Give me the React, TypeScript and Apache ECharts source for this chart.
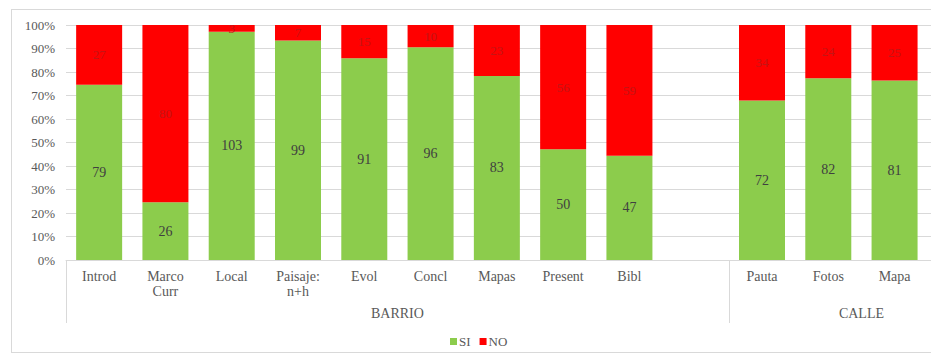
import React, { useEffect, useRef } from "react";
import * as echarts from "echarts";

const categories = ["Introd", "Marco\nCurr", "Local", "Paisaje:\nn+h", "Evol", "Concl", "Mapas", "Present", "Bibl", "", "Pauta", "Fotos", "Mapa", ""];
const siValues: (number | null)[] = [79, 26, 103, 99, 91, 96, 83, 50, 47, null, 72, 82, 81, null];
const noValues: (number | null)[] = [27, 80, 3, 7, 15, 10, 23, 56, 59, null, 34, 24, 25, null];
const groups = [
  { name: "BARRIO", center: 5 },
  { name: "CALLE", center: 12 },
];
const groupDividers = [0, 10];
const yTicks = { min: 0, max: 100, interval: 10 };

const FONT = "Liberation Serif";

function pct(a: number | null, b: number | null): number | null {
  if (a == null || b == null) return null;
  return (a / (a + b)) * 100;
}

export default function App() {
  const ref = useRef<HTMLDivElement>(null);
  useEffect(() => {
    if (!ref.current) return;
    const chart = echarts.init(ref.current, undefined, { renderer: "svg" });
    const siPct = siValues.map((v, i) => pct(v, noValues[i]));
    const noPct = noValues.map((v, i) => pct(v, siValues[i]));
    chart.setOption({
      animation: false,
      textStyle: { fontFamily: FONT },
      grid: { left: 66, right: 0, top: 25, bottom: 93 },
      legend: {
        data: ["SI", "NO"],
        left: 450,
        top: 335,
        padding: 0,
        itemWidth: 7,
        itemHeight: 7,
        itemGap: 9,
        icon: "rect",
        textStyle: { fontFamily: FONT, fontSize: 13, color: "#595959", padding: [0, 0, 0, -3] },
      },
      xAxis: [
        {
          type: "category",
          data: categories,
          axisLine: { show: true, lineStyle: { color: "#d9d9d9" } },
          axisTick: {
            show: true,
            length: 63,
            interval: (i: number) => groupDividers.includes(i),
            lineStyle: { color: "#d9d9d9" },
          },
          axisLabel: {
            interval: 0,
            margin: 9,
            fontFamily: FONT,
            fontSize: 14,
            color: "#595959",
            lineHeight: 15,
          },
        },
        {
          type: "value",
          position: "bottom",
          min: 0,
          max: categories.length,
          interval: 1,
          axisLine: { show: false },
          axisTick: { show: false },
          splitLine: { show: false },
          axisLabel: {
            margin: 46,
            fontFamily: FONT,
            fontSize: 14,
            color: "#595959",
            formatter: (v: number) => {
              const g = groups.find((gr) => gr.center === v);
              return g ? g.name : "";
            },
          },
        },
      ],
      yAxis: {
        type: "value",
        min: yTicks.min,
        max: yTicks.max,
        interval: yTicks.interval,
        axisLine: { show: false },
        axisTick: { show: false },
        splitLine: { lineStyle: { color: "#d9d9d9" } },
        axisLabel: {
          formatter: "{value}%",
          margin: 11,
          fontFamily: FONT,
          fontSize: 13,
          color: "#595959",
        },
      },
      series: [
        {
          name: "SI",
          type: "bar",
          stack: "total",
          barWidth: 46,
          data: siPct,
          itemStyle: { color: "#8ccc4c" },
          label: {
            show: true,
            position: "inside",
            fontFamily: FONT,
            fontSize: 14,
            color: "#404040",
            formatter: (p: any) => (siValues[p.dataIndex] == null ? "" : String(siValues[p.dataIndex])),
          },
        },
        {
          name: "NO",
          type: "bar",
          stack: "total",
          barWidth: 46,
          data: noPct,
          itemStyle: { color: "#ff0000" },
          label: {
            show: true,
            position: "inside",
            fontFamily: FONT,
            fontSize: 13,
            color: "#c41414",
            formatter: (p: any) => (noValues[p.dataIndex] == null ? "" : String(noValues[p.dataIndex])),
          },
        },
      ],
    });
    return () => chart.dispose();
  }, []);
  return (
    <div style={{ position: "absolute", left: 0, top: 0, width: 931, height: 353, overflow: "hidden", background: "#fff" }}>
      <div
        style={{
          position: "absolute",
          left: 11,
          top: 9,
          width: 940,
          height: 342,
          border: "1px solid #d9d9d9",
        }}
      />
      <div ref={ref} style={{ position: "absolute", left: 0, top: 0, width: 997, height: 353 }} />
    </div>
  );
}
